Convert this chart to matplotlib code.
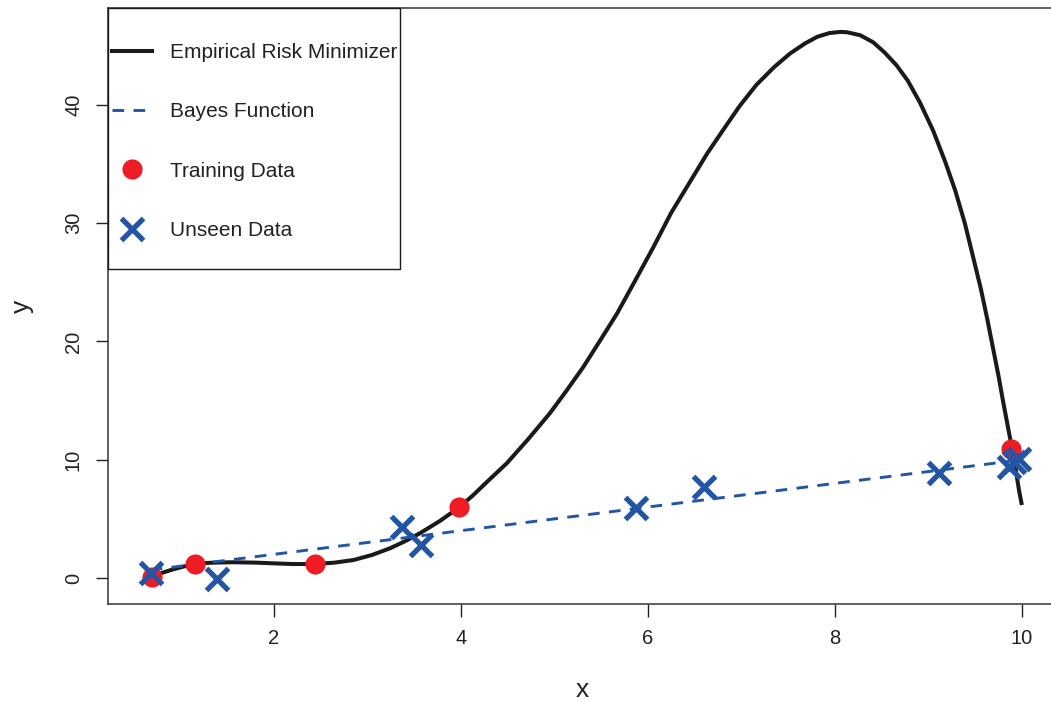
import matplotlib
matplotlib.use("Agg")
import matplotlib.pyplot as plt
from matplotlib.patches import Rectangle
from matplotlib.lines import Line2D

plt.rcParams['font.family'] = ['Liberation Sans', 'DejaVu Sans']

# ---- data ----
train_x = [0.69, 1.16, 2.44, 3.98, 9.88]
train_y = [0.11, 1.16, 1.18, 5.97, 10.9]

unseen_x = [0.68, 1.39, 3.37, 3.57, 5.87, 6.60, 9.11, 9.86, 9.92, 9.97]
unseen_y = [0.40, -0.05, 4.34, 2.79, 5.94, 7.72, 8.90, 9.40, 9.80, 10.10]

bayes_x = [0.68, 9.97]
bayes_y = [0.68, 9.97]

erm_x = [0.69, 0.80, 0.92, 1.04, 1.16, 1.28, 1.40, 1.56, 1.80, 1.99, 2.20, 2.44,
         2.65, 2.85, 3.05, 3.24, 3.40, 3.56, 3.78, 3.98, 4.13, 4.28, 4.49, 4.72,
         4.95, 5.13, 5.31, 5.49, 5.67, 5.86, 6.06, 6.25, 6.45, 6.63, 6.81, 6.98,
         7.16, 7.35, 7.52, 7.68, 7.81, 7.94, 8.06, 8.13, 8.27, 8.41, 8.53, 8.66,
         8.78, 8.91, 9.05, 9.18, 9.29, 9.39, 9.48, 9.56, 9.63, 9.69, 9.75, 9.80,
         9.86, 9.92, 9.97, 10.0]
erm_y = [0.11, 0.43, 0.73, 0.98, 1.16, 1.27, 1.31, 1.33, 1.30, 1.24, 1.18, 1.18,
         1.30, 1.52, 1.95, 2.51, 3.10, 3.78, 4.85, 5.97, 7.00, 8.14, 9.70, 11.75,
         13.92, 15.85, 17.86, 20.10, 22.37, 25.10, 28.00, 30.90, 33.50, 35.85, 37.95, 39.90,
         41.70, 43.20, 44.35, 45.20, 45.76, 46.08, 46.18, 46.15, 45.90, 45.30, 44.45, 43.35,
         42.05, 40.20, 37.85, 35.20, 32.70, 30.00, 27.10, 24.50, 21.90, 19.50, 17.10, 14.90,
         12.40, 9.90, 7.40, 6.17]

xticks = [2, 4, 6, 8, 10]
yticks = [0, 10, 20, 30, 40]

labels = ["Empirical Risk Minimizer", "Bayes Function", "Training Data", "Unseen Data"]

# ---- styling ----
BLACK = "#1a1a1a"
BLUE = "#2355a5"
RED = "#ee1c25"
W, H = 1051, 702

fig = plt.figure(figsize=(W / 100, H / 100), dpi=100)
ax = fig.add_axes([108 / W, (H - 604) / H, (1057 - 108) / W, (604 - 8) / H])
ax.set_xlim(0.224, 10.376)
ax.set_ylim(-2.2, 48.2)

ax.plot(erm_x, erm_y, color=BLACK, lw=2.9, zorder=3, solid_capstyle='butt',
        solid_joinstyle='round')
ax.plot(bayes_x, bayes_y, color=BLUE, lw=2.1, dashes=(4, 3.2), zorder=3)
ax.plot(train_x, train_y, 'o', color=RED, ms=14.5, mec='none', zorder=4)
ax.plot(unseen_x, unseen_y, 'x', color=BLUE, ms=16, mew=3.8, zorder=5)

ax.set_xticks(xticks)
ax.set_yticks(yticks)
ax.tick_params(axis='both', direction='out', length=9, width=1, color='#222222',
               labelsize=14.5, labelcolor='#222222')
ax.tick_params(axis='x', pad=9)
ax.tick_params(axis='y', pad=9)
for lab in ax.get_yticklabels():
    lab.set_rotation(90)
    lab.set_va('center')

for s in ax.spines.values():
    s.set_color('#333333')
    s.set_linewidth(1.1)

ax.set_xlabel("x", fontsize=19, color='#222222', va='center')
ax.xaxis.set_label_coords(0.5, (604 - 690) / 596)
ax.set_ylabel("y", fontsize=19, color='#222222', va='center', ha='center')
ax.yaxis.set_label_coords((22 - 108) / 949, 0.5)

# legend frame
ax.add_patch(Rectangle((0, (604 - 269) / 596), (400 - 108) / 949, (269 - 8) / 596,
                       transform=ax.transAxes, facecolor='white', edgecolor=BLACK,
                       lw=1.0, zorder=6, clip_on=False))

handles = [
    Line2D([], [], color=BLACK, lw=2.9),
    Line2D([], [], color=BLUE, lw=2.1, dashes=(4, 3.2)),
    Line2D([], [], ls='none', marker='o', color=RED, ms=14.5, mec='none'),
    Line2D([], [], ls='none', marker='x', color=BLUE, ms=16, mew=3.8),
]
leg = ax.legend(handles, labels, loc='center left',
                bbox_to_anchor=((112 - 108) / 949, (604 - 141.5) / 596),
                frameon=False, fontsize=15, borderpad=0, borderaxespad=0,
                handlelength=1.92, handletextpad=0.86, labelspacing=1.93,
                numpoints=1)
leg.set_zorder(7)
for t in leg.get_texts():
    t.set_color('#222222')

fig.savefig("out.png", dpi=100)
